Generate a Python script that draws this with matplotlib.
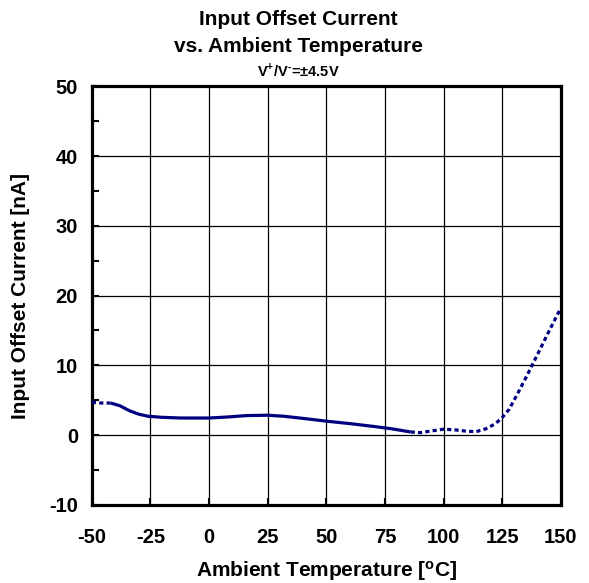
import matplotlib
matplotlib.use("Agg")
import matplotlib.pyplot as plt
from matplotlib.ticker import MultipleLocator

plt.rcParams['font.family'] = ['Liberation Sans', 'DejaVu Sans']
plt.rcParams['font.weight'] = 'bold'
plt.rcParams['axes.unicode_minus'] = False
plt.rcParams['mathtext.fontset'] = 'custom'
plt.rcParams['mathtext.rm'] = 'Liberation Sans:bold'
plt.rcParams['mathtext.bf'] = 'Liberation Sans:bold'

# --- Data ---
temp_low = [-50, -46, -42]
ioff_low = [4.7, 4.6, 4.6]

temp_mid = [-42, -38, -34, -30, -26, -20, -12, 0, 8, 16, 25, 32, 40, 50, 60, 70, 78, 86]
ioff_mid = [4.6, 4.2, 3.5, 3.0, 2.7, 2.55, 2.45, 2.45, 2.6, 2.8, 2.85, 2.7, 2.4, 2.0, 1.65, 1.25, 0.9, 0.45]

temp_high = [86, 90, 95, 100, 105, 110, 114, 118, 122, 125, 128, 132, 136, 140, 145, 150]
ioff_high = [0.45, 0.35, 0.6, 0.85, 0.75, 0.55, 0.5, 0.9, 1.6, 2.5, 3.7, 6.2, 8.8, 11.5, 14.9, 18.2]

xticks = [-50, -25, 0, 25, 50, 75, 100, 125, 150]
yticks = [-10, 0, 10, 20, 30, 40, 50]

LINE_COLOR = '#000080'

fig = plt.figure(figsize=(5.89, 5.83), dpi=100)
ax = fig.add_axes([0.156, 0.134, 0.796, 0.718])

ax.plot(temp_mid, ioff_mid, color=LINE_COLOR, lw=2.3, solid_capstyle='butt', zorder=3)
ax.plot(temp_low, ioff_low, color=LINE_COLOR, lw=2.3, linestyle=(0, (1.3, 1.0)), zorder=3)
ax.plot(temp_high, ioff_high, color=LINE_COLOR, lw=2.3, linestyle=(0, (1.3, 1.0)), zorder=3)

ax.set_xlim(-50, 150)
ax.set_ylim(-10, 50)
ax.set_xticks(xticks)
ax.set_yticks(yticks)
ax.yaxis.set_minor_locator(MultipleLocator(5))
ax.tick_params(axis='both', which='both', direction='in', labelsize=14.5)
ax.tick_params(axis='x', which='major', pad=17)
ax.tick_params(axis='y', which='major', pad=10)
ax.tick_params(axis='both', which='major', length=5, width=1.5)
ax.tick_params(axis='y', which='minor', length=5, width=1.5)
for lab in ax.get_xticklabels() + ax.get_yticklabels():
    lab.set_fontweight('bold')

ax.grid(True, which='major', color='black', lw=0.9)
for sp in ax.spines.values():
    sp.set_linewidth(2.3)

ax.set_xlabel('Ambient Temperature [$\\mathregular{^o}$C]', fontsize=15, fontweight='bold', labelpad=8)
ax.set_ylabel('Input Offset Current [nA]', fontsize=15, fontweight='bold', labelpad=14)

fig.text(0.507, 0.966, 'Input Offset Current', ha='center', va='center', fontsize=15, fontweight='bold')
fig.text(0.507, 0.921, 'vs. Ambient Temperature', ha='center', va='center', fontsize=15, fontweight='bold')
fig.text(0.507, 0.880, 'V$^{+}$/V$^{\\text{-}}$=\u00b14.5V', ha='center', va='center', fontsize=10.5, fontweight='bold')

fig.savefig('out.png', dpi=100)
